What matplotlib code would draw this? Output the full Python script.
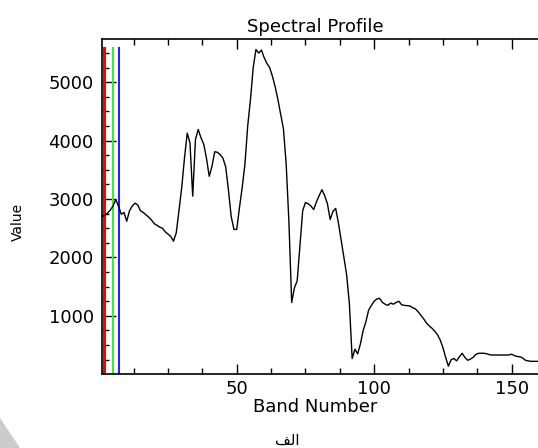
import numpy as np
import matplotlib
matplotlib.use("Agg")
import matplotlib.pyplot as plt
from matplotlib.patches import Polygon

# band numbers and values
bands = list(range(1, 161))
values = [
    2700, 2720, 2760, 2810, 2880, 2990, 2880, 2740, 2770, 2620,
    2800, 2880, 2930, 2900, 2800, 2770, 2730, 2690, 2640, 2580,
    2550, 2520, 2500, 2440, 2400, 2360, 2280, 2420, 2800, 3200,
    3700, 4130, 3960, 3050, 4020, 4190, 4050, 3940, 3700, 3390,
    3560, 3810, 3800, 3760, 3700, 3550, 3150, 2700, 2480, 2480,
    2850, 3200, 3600, 4250, 4700, 5250, 5560, 5500, 5550, 5420,
    5320, 5250, 5100, 4920, 4700, 4450, 4200, 3600, 2600, 1230,
    1480, 1600, 2200, 2800, 2940, 2920, 2880, 2820, 2950, 3060,
    3160, 3060, 2920, 2650, 2790, 2840, 2590, 2300, 2000, 1700,
    1200, 270, 430, 350, 520, 750, 900, 1100, 1180, 1250,
    1290, 1300, 1230, 1200, 1180, 1220, 1200, 1230, 1250, 1190,
    1180, 1175, 1170, 1140, 1120, 1070, 1010, 950, 880, 830,
    790, 740, 680, 590, 460, 290, 140, 250, 270, 230,
    300, 360, 290, 240, 260, 290, 340, 360, 360, 360,
    350, 335, 330, 330, 330, 330, 330, 330, 330, 345,
    320, 305, 300, 280, 240, 230, 222, 222, 222, 222,
]

# bands shown in red / green / blue
rgb_bands = [1.8, 5, 7.1]
rgb_colors = ["#ff0000", "#33ee33", "#2222ff"]
rgb_widths = [2.2, 1.5, 1.5]
bar_top = 5590

fig = plt.figure(figsize=(5.38, 4.48), dpi=100)
ax = fig.add_axes([102 / 538, 73.7 / 448, 1 - 102 / 538, 335.3 / 448])

for b, c, w in zip(rgb_bands, rgb_colors, rgb_widths):
    ax.plot([b, b], [0, bar_top], color=c, lw=w, zorder=2)
ax.plot(bands, values, color="black", lw=1.0, zorder=3)

ax.set_xlim(1, 159.6)
ax.set_ylim(0, 5740)
ax.spines["right"].set_visible(False)
for s in ["left", "top", "bottom"]:
    ax.spines[s].set_linewidth(1.2)

ax.set_xticks([50, 100, 150])
ax.set_xticks(np.arange(12.5, 160, 12.5), minor=True)
ax.set_yticks([1000, 2000, 3000, 4000, 5000])
ax.set_yticks(np.arange(250, 5740, 250), minor=True)
ax.tick_params(axis="x", which="both", direction="in", top=True, bottom=True,
               labelsize=13, pad=4, width=1)
ax.tick_params(axis="x", which="major", length=7)
ax.tick_params(axis="x", which="minor", length=4)
ax.tick_params(axis="y", which="both", direction="in", left=True, right=False,
               labelsize=13, pad=6, width=1)
ax.tick_params(axis="y", which="major", length=10)
ax.tick_params(axis="y", which="minor", length=5)

fig.text(315 / 538, 1 - 27 / 448, "Spectral Profile", ha="center", va="center", fontsize=13)
fig.text(315 / 538, 1 - 407 / 448, "Band Number", ha="center", va="center", fontsize=13)
fig.text(18 / 538, 1 - 222 / 448, "Value", ha="center", va="center", fontsize=10, rotation=90)
fig.text(287 / 538, 1 - 440 / 448, "\uFED2\uFEDF\uFE8D", ha="center", va="center",
         fontsize=11, family=["DejaVu Sans"])

# grey corner mark at the bottom left
fig.patches.append(Polygon([[0, 0], [20 / 538, 0], [0, 30 / 448]], closed=True,
                           transform=fig.transFigure, facecolor="#cccccc", edgecolor="none"))

fig.savefig("out.png", dpi=100)
